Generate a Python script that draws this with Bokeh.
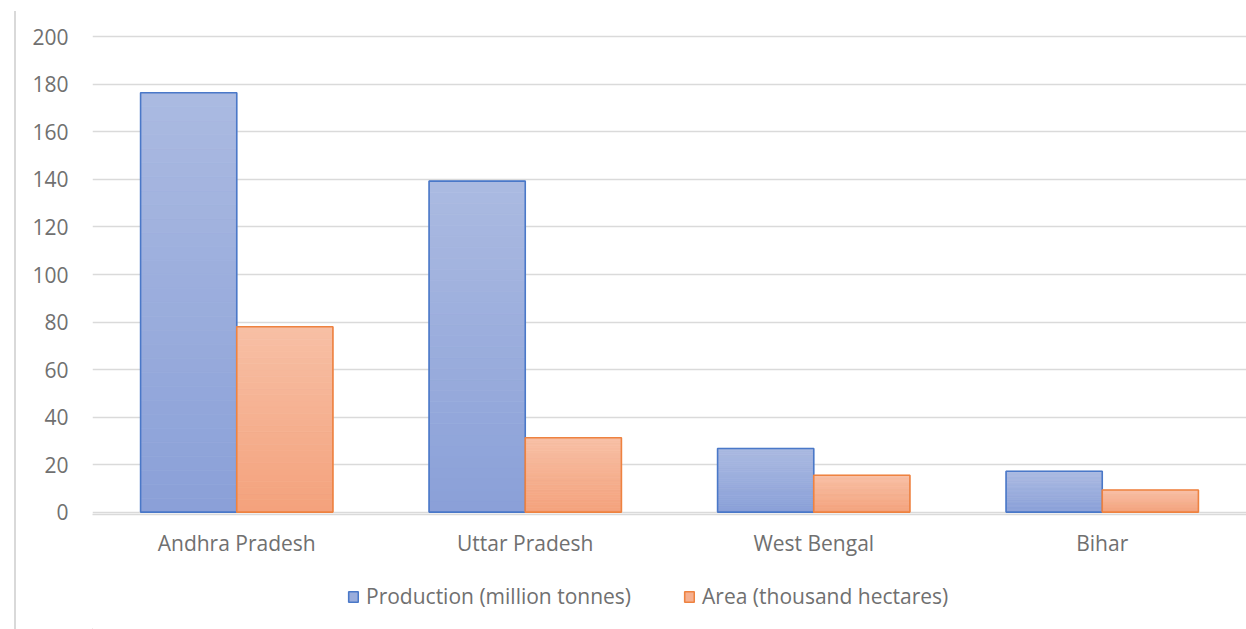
import numpy as np
from bokeh.plotting import figure
from bokeh.layouts import row, column
from bokeh.models import (ColumnDataSource, FactorRange, Range1d, FixedTicker,
                          Legend, LegendItem, Div)
from bokeh.transform import dodge
from bokeh.embed import file_html
from bokeh.resources import INLINE

# Data
states = ["Andhra Pradesh", "Uttar Pradesh", "West Bengal", "Bihar"]
production = [176.5, 139.3, 26.8, 17.2]
area = [78.0, 31.3, 15.5, 9.3]
series_names = ["Production (million tonnes)", "Area (thousand hectares)"]
y_ticks = [0, 20, 40, 60, 80, 100, 120, 140, 160, 180, 200]

FONT = "Open Sans"
FONT_SIZE = "21px"
TEXT_COLOR = "#707070"
GRID_COLOR = "#dadada"

# Per-series styling: gradient top colour, bottom colour, outline
styles = [
    dict(top="#abbae1", bottom="#8aa0d8", line="#4a78c8", offset=-1 / 6),
    dict(top="#f7bfa5", bottom="#f4a27c", line="#ee8240", offset=1 / 6),
]
BAR_W = 1 / 3
N_BANDS = 30


def blend(c1, c2, t):
    a = np.array([int(c1[i:i + 2], 16) for i in (1, 3, 5)], dtype=float)
    b = np.array([int(c2[i:i + 2], 16) for i in (1, 3, 5)], dtype=float)
    c = a + (b - a) * t
    return "#%02x%02x%02x" % tuple(int(round(v)) for v in c)


p = figure(
    x_range=FactorRange(*states, range_padding=0),
    y_range=Range1d(-1, 201),
    width=1230, height=560,
    min_border_left=76, min_border_right=0,
    min_border_top=34, min_border_bottom=46,
    output_backend="svg", toolbar_location=None,
    background_fill_color="white", border_fill_color="white",
)
p.outline_line_color = None

for name, values, st in zip(series_names, [production, area], styles):
    x = dodge("state", st["offset"], range=p.x_range)
    base_src = ColumnDataSource(dict(state=states, value=values))

    # vertical gradient: bands spanning each bar's own height
    bs, bb, bt, bc = [], [], [], []
    for s, v in zip(states, values):
        for k in range(N_BANDS):
            bs.append(s)
            bb.append(v * k / N_BANDS)
            bt.append(v * (k + 1) / N_BANDS)
            bc.append(blend(st["bottom"], st["top"], (k + 0.5) / N_BANDS))
    band_src = ColumnDataSource(dict(state=bs, bottom=bb, top=bt, color=bc))
    p.vbar(x=x, top="top", bottom="bottom", width=BAR_W, source=band_src,
           fill_color="color", line_color="color", line_width=0.8)

    p.vbar(x=x, top="value", bottom=0, width=BAR_W, source=base_src,
           fill_color=None, line_color=st["line"], line_width=1.6)

# Axes
p.yaxis.ticker = FixedTicker(ticks=y_ticks)
p.yaxis.axis_line_color = None
p.yaxis.major_tick_line_color = None
p.yaxis.minor_tick_line_color = None
p.yaxis.major_label_standoff = 18
p.yaxis.major_label_text_font = FONT
p.yaxis.major_label_text_font_size = FONT_SIZE
p.yaxis.major_label_text_color = TEXT_COLOR

p.xaxis.axis_line_color = GRID_COLOR
p.xaxis.axis_line_width = 1.5
p.xaxis.major_tick_line_color = None
p.xaxis.minor_tick_line_color = None
p.xaxis.major_label_standoff = 8
p.xaxis.major_label_text_font = FONT
p.xaxis.major_label_text_font_size = FONT_SIZE
p.xaxis.major_label_text_color = TEXT_COLOR

p.xgrid.grid_line_color = None
p.ygrid.ticker = FixedTicker(ticks=y_ticks)
p.ygrid.grid_line_color = GRID_COLOR
p.ygrid.grid_line_width = 1.5

# Legend strip under the chart (its frame lines up with the chart's frame)
key = figure(
    width=1230, height=69, x_range=Range1d(0, 1), y_range=Range1d(0, 1),
    x_axis_type=None, y_axis_type=None,
    min_border_left=0, min_border_right=0, min_border_top=0, min_border_bottom=0,
    output_backend="svg", toolbar_location=None,
    background_fill_color="white", border_fill_color="white",
)
key.outline_line_color = None
key.grid.visible = False

items = []
for name, st in zip(series_names, styles):
    # legend proxy glyph, kept outside the strip's visible range
    r = key.vbar(x=[-1.0], top=[-1.0], bottom=[-2.0], width=0.1,
                 fill_color=blend(st["top"], st["bottom"], 0.5),
                 line_color=st["line"], line_width=1.6)
    items.append(LegendItem(label=name, renderers=[r]))

legend = Legend(
    items=items, orientation="horizontal", location=(255, 19),
    spacing=52, padding=0, margin=0,
    glyph_width=12, glyph_height=13, label_standoff=7,
    label_text_font=FONT, label_text_font_size=FONT_SIZE,
    label_text_color=TEXT_COLOR,
    border_line_color=None, background_fill_alpha=0,
)
key.add_layout(legend, "center")

# thin chart-area border on the left
edge = Div(
    text='<div style="margin:11px 0 0 14px;width:2px;height:618px;'
         'background:#d9d9d9"></div>',
    width=16, height=629, margin=(0, 0, 0, 0),
)

layout = row(edge, column(p, key, spacing=0), spacing=0)
open("out.html", "w").write(file_html(layout, INLINE))
